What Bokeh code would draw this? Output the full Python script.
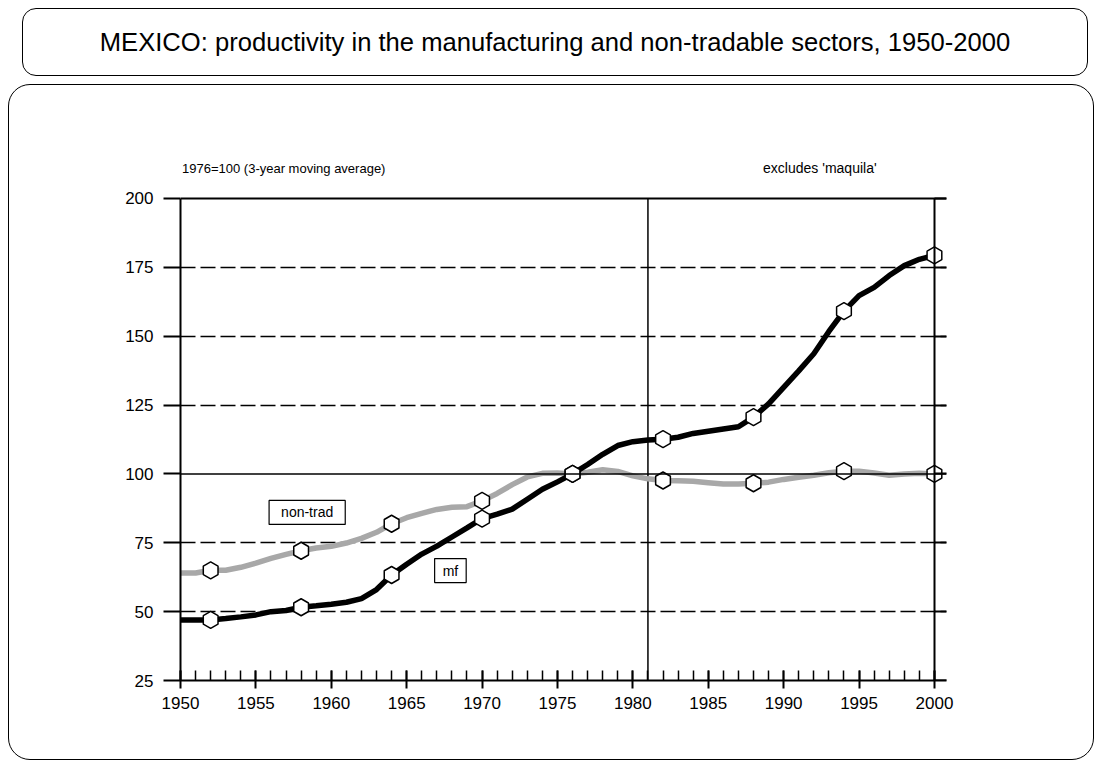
import math
from bokeh.plotting import figure
from bokeh.layouts import column
from bokeh.models import (Range1d, LinearAxis, FixedTicker, Span, Label,
                          ColumnDataSource, Grid, Div)
from bokeh.embed import file_html
from bokeh.resources import INLINE

# ---------------- data ----------------
years = list(range(1950, 2001))
mf = [47.0, 47.0, 47.0, 47.5, 48.1, 48.8, 50.0, 50.4, 51.6, 52.1,
      52.7, 53.4, 54.7, 58.0, 63.3, 67.2, 70.9, 73.8, 77.1, 80.4,
      83.8, 85.4, 87.2, 90.8, 94.4, 97.1, 100.0, 103.4, 107.1, 110.3,
      111.7, 112.3, 112.6, 113.3, 114.7, 115.5, 116.3, 117.1, 120.6, 125.4,
      131.4, 137.4, 143.6, 151.7, 159.1, 164.7, 167.7, 172.0, 175.6, 177.9,
      179.3]
nontrad = [64.0, 64.0, 65.0, 65.0, 66.1, 67.6, 69.3, 70.8, 72.1, 73.1,
           73.7, 74.9, 76.6, 78.8, 81.9, 84.1, 85.7, 87.1, 87.9, 88.1,
           90.2, 92.9, 96.1, 98.9, 100.2, 100.3, 100.0, 100.6, 101.5, 100.9,
           99.3, 98.2, 97.6, 97.5, 97.3, 96.8, 96.3, 96.3, 96.6, 97.0,
           98.0, 98.8, 99.5, 100.4, 101.0, 101.0, 100.3, 99.5, 100.0, 100.2,
           100.0]
marker_years = [1952, 1958, 1964, 1970, 1976, 1982, 1988, 1994, 2000]
y_ticks = [25, 50, 75, 100, 125, 150, 175, 200]
dashed_levels = [50, 75, 125, 150, 175]
x_major_ticks = list(range(1950, 2001, 5))
x_minor_ticks = list(range(1950, 2001, 1))

title_text = "MEXICO: productivity in the manufacturing and non-tradable sectors, 1950-2000"
left_note = "1976=100  (3-year moving average)"
right_note = "excludes 'maquila'"
break_year = 1981

FONT = "Liberation Sans"

src = ColumnDataSource(dict(year=years, mf=mf, nt=nontrad))
idx = [years.index(y) for y in marker_years]
msrc = ColumnDataSource(dict(year=marker_years,
                             mf=[mf[i] for i in idx],
                             nt=[nontrad[i] for i in idx]))

p = figure(width=1088, height=676, output_backend="svg", toolbar_location=None,
           x_range=Range1d(1950, 2000.8), y_range=Range1d(25, 217.4),
           x_axis_type=None, y_axis_type=None,
           min_border_left=172, min_border_right=150,
           min_border_top=66, min_border_bottom=80)
p.outline_line_color = None
p.background_fill_color = "white"
p.border_fill_color = "white"
p.margin = (0, 0, 0, 8)

# axes
xa = LinearAxis(ticker=FixedTicker(ticks=x_major_ticks, minor_ticks=x_minor_ticks))
xa.major_tick_in = 10
xa.major_tick_out = 8
xa.minor_tick_in = 10
xa.minor_tick_out = 0
xa.axis_line_width = 2
xa.major_tick_line_width = 2
xa.minor_tick_line_width = 1.5
xa.major_label_text_font = FONT
xa.major_label_text_font_size = "17px"
xa.major_label_text_color = "black"
xa.major_label_standoff = 8
p.add_layout(xa, "below")

ya = LinearAxis(ticker=FixedTicker(ticks=y_ticks, minor_ticks=[]), bounds=(25, 200))
ya.major_tick_in = 0
ya.major_tick_out = 17
ya.axis_line_width = 2
ya.major_tick_line_width = 2
ya.major_label_text_font = FONT
ya.major_label_text_font_size = "17px"
ya.major_label_text_color = "black"
ya.major_label_standoff = 10
p.add_layout(ya, "left")

yr = LinearAxis(ticker=FixedTicker(ticks=y_ticks, minor_ticks=[]), bounds=(25, 200),
                fixed_location=2000)
yr.major_tick_in = 0
yr.major_tick_out = 14
yr.axis_line_width = 2
yr.major_tick_line_width = 2
yr.major_label_text_font = FONT
yr.major_label_text_font_size = "17px"
yr.major_label_text_color = "black"
yr.major_label_standoff = 12
p.add_layout(yr, "right")

# grid
g = Grid(dimension=1, ticker=FixedTicker(ticks=dashed_levels))
g.grid_line_color = "black"
g.grid_line_width = 1.5
g.grid_line_dash = "15 5"
p.add_layout(g)

p.add_layout(Span(location=y_ticks[-1], dimension="width", line_color="black", line_width=2))
p.add_layout(Span(location=100, dimension="width", line_color="black", line_width=1.5))
p.segment(x0=[break_year], y0=[y_ticks[0]], x1=[break_year], y1=[y_ticks[-1]],
          line_color="black", line_width=1.5)

# series
p.line("year", "nt", source=src, line_color="#A8A8A8", line_width=5.5)
p.line("year", "mf", source=src, line_color="black", line_width=5.5)
p.scatter("year", "nt", source=msrc, marker="hex", size=17, angle=math.pi / 2,
          fill_color="white", line_color="black", line_width=1.5)
p.scatter("year", "mf", source=msrc, marker="hex", size=17, angle=math.pi / 2,
          fill_color="white", line_color="black", line_width=1.5)

# series labels
for txt, x, y, padx in [("non-trad", 1958.4, 86.0, 12), ("mf", 1967.9, 64.9, 8)]:
    p.add_layout(Label(x=x, y=y, text=txt, text_font=FONT, text_font_size="14px",
                       text_color="black",
                       text_align="center", text_baseline="middle",
                       border_line_color="black", border_line_width=1.2,
                       background_fill_color="white",
                       padding=dict(left=padx, right=padx, top=4, bottom=4)))

# header notes
p.add_layout(Label(x=1950.1, y=210.9, text=left_note, text_font=FONT,
                   text_color="black",
                   text_font_size="13px", text_align="left", text_baseline="middle"))
p.add_layout(Label(x=1992.4, y=210.9, text=right_note, text_font=FONT,
                   text_color="black",
                   text_font_size="14px", text_align="center", text_baseline="middle"))

title_div = Div(
    text=('<div style="margin-left:22px;margin-top:8px;width:1066px;height:68px;'
          'box-sizing:border-box;border:1.5px solid black;border-radius:14px;'
          'display:flex;align-items:center;justify-content:center;'
          'font-family:\'Liberation Sans\';font-size:25.6px;color:black;">'
          + title_text + '</div>'),
    width=1096, height=84, margin=0)

frame_box = Div(
    text=('<div style="position:fixed;left:8px;top:84px;width:1086px;height:676px;'
          'box-sizing:border-box;border:1.5px solid black;border-radius:22px;'
          'pointer-events:none;z-index:10;"></div>'),
    width=1096, height=1, margin=0)

layout = column(title_div, p, frame_box, spacing=0, margin=0)

open("out.html", "w").write(file_html(layout, INLINE))
